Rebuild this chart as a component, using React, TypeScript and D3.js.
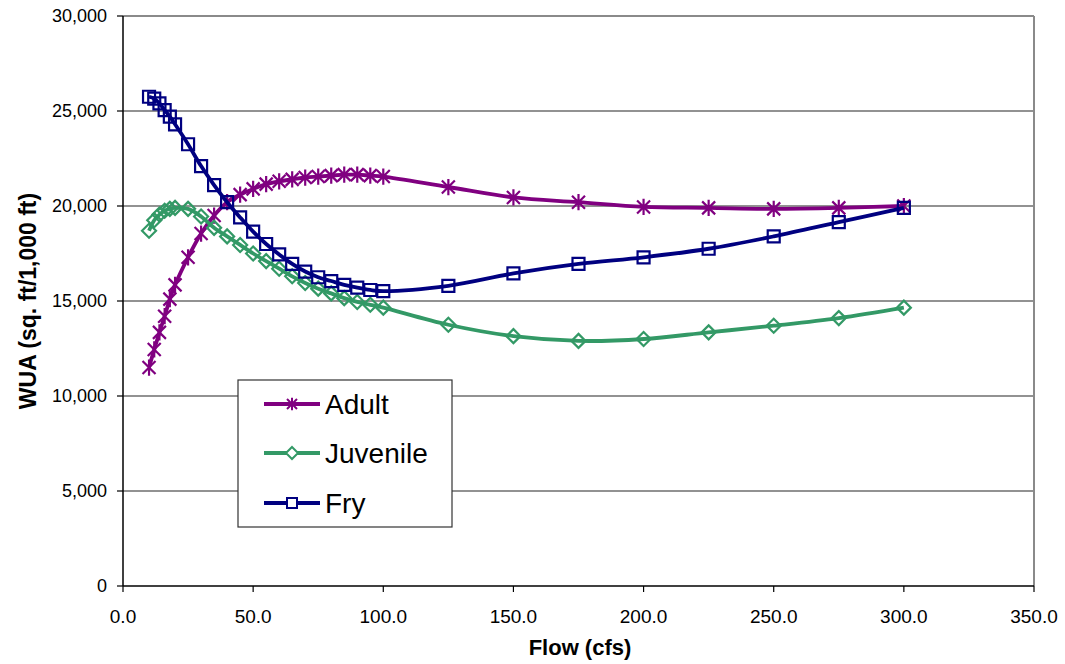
import React from "react";
import * as d3 from "d3";

// Flow values (cfs) shared by all three life stages
const flows = [10, 12, 14, 16, 18, 20, 25, 30, 35, 40, 45, 50, 55, 60, 65, 70, 75, 80, 85, 90, 95, 100, 125, 150, 175, 200, 225, 250, 275, 300];

// Weighted usable area (sq. ft / 1,000 ft) per life stage
const adult = [11500, 12450, 13350, 14200, 15100, 15850, 17300, 18550, 19500, 20200, 20600, 20900, 21150, 21300, 21400, 21500, 21550, 21600, 21650, 21650, 21600, 21550, 21000, 20450, 20200, 19950, 19900, 19850, 19900, 20000];
const juvenile = [18700, 19250, 19550, 19750, 19850, 19900, 19850, 19450, 18850, 18400, 17950, 17500, 17100, 16700, 16300, 15950, 15650, 15400, 15150, 14950, 14800, 14650, 13750, 13150, 12900, 13000, 13350, 13700, 14100, 14650];
const fry = [25750, 25650, 25400, 25050, 24700, 24300, 23250, 22100, 21100, 20200, 19400, 18650, 18000, 17450, 16950, 16550, 16250, 16050, 15850, 15700, 15580, 15520, 15800, 16450, 16950, 17300, 17750, 18400, 19150, 19900];

const xTicks = [0, 50, 100, 150, 200, 250, 300, 350];
const yTicks = [0, 5000, 10000, 15000, 20000, 25000, 30000];

type Marker = "star" | "diamond" | "square";
const seriesList: { name: string; values: number[]; color: string; marker: Marker }[] = [
  { name: "Adult", values: adult, color: "#800080", marker: "star" },
  { name: "Juvenile", values: juvenile, color: "#339966", marker: "diamond" },
  { name: "Fry", values: fry, color: "#000080", marker: "square" },
];

const W = 1065;
const H = 664;
const plot = { left: 123, top: 16, right: 1034, bottom: 586 };
const FONT = "Arial, 'Liberation Sans', sans-serif";

function markerPath(kind: Marker, cx: number, cy: number, r: number): string {
  if (kind === "square") {
    return `M${cx - r},${cy - r}H${cx + r}V${cy + r}H${cx - r}Z`;
  }
  if (kind === "diamond") {
    return `M${cx},${cy - r}L${cx + r},${cy}L${cx},${cy + r}L${cx - r},${cy}Z`;
  }
  return `M${cx - r},${cy - r}L${cx + r},${cy + r}M${cx - r},${cy + r}L${cx + r},${cy - r}M${cx},${cy - r * 1.25}V${cy + r * 1.25}`;
}

const markerSize: Record<Marker, number> = { star: 6.5, diamond: 7, square: 6 };
const legendMarkerSize: Record<Marker, number> = { star: 5, diamond: 6, square: 5 };

export default function App() {
  const x = d3.scaleLinear().domain([0, 350]).range([plot.left, plot.right]);
  const y = d3.scaleLinear().domain([0, 30000]).range([plot.bottom, plot.top]);

  const line = d3
    .line<number>()
    .x((_, i) => x(flows[i]))
    .y((v) => y(v))
    .curve(d3.curveCatmullRom.alpha(0.5));

  const legend = { x: 238, y: 380, w: 214, h: 147 };
  const legendRows = [404, 453, 503];

  return (
    <svg width={W} height={H} style={{ display: "block", position: "absolute", left: 0, top: 0 }} fontFamily={FONT}>
      <rect width={W} height={H} fill="#ffffff" />

      {/* horizontal gridlines */}
      {yTicks
        .filter((t) => t > 0 && t < 30000)
        .map((t) => (
          <line key={t} x1={plot.left} x2={plot.right} y1={y(t)} y2={y(t)} stroke="#6e6e6e" strokeWidth={1.3} />
        ))}

      {/* plot area frame: top and right in gray */}
      <line x1={plot.left} x2={plot.right} y1={plot.top} y2={plot.top} stroke="#8a8a8a" strokeWidth={2} />
      <line x1={plot.right} x2={plot.right} y1={plot.top} y2={plot.bottom} stroke="#8a8a8a" strokeWidth={2} />

      {/* axes */}
      <line x1={plot.left} x2={plot.left} y1={plot.top} y2={plot.bottom} stroke="#000" strokeWidth={1.5} />
      <line x1={plot.left} x2={plot.right} y1={plot.bottom} y2={plot.bottom} stroke="#000" strokeWidth={1.5} />

      {yTicks.map((t) => (
        <g key={t}>
          <line x1={plot.left - 6} x2={plot.left} y1={y(t)} y2={y(t)} stroke="#000" strokeWidth={1.2} />
          <text x={107} y={y(t)} dy="0.35em" textAnchor="end" fontSize={18} fill="#000">
            {d3.format(",")(t)}
          </text>
        </g>
      ))}
      {xTicks.map((t) => (
        <g key={t}>
          <line x1={x(t)} x2={x(t)} y1={plot.bottom} y2={plot.bottom + 6} stroke="#000" strokeWidth={1.2} />
          <text x={x(t)} y={623} textAnchor="middle" fontSize={19} fill="#000">
            {d3.format(".1f")(t)}
          </text>
        </g>
      ))}

      <text x={580} y={655} textAnchor="middle" fontSize={22} fontWeight="bold" fill="#000">
        Flow (cfs)
      </text>
      <text
        transform={`translate(36,${(plot.top + plot.bottom) / 2}) rotate(-90)`}
        textAnchor="middle"
        fontSize={23}
        fontWeight="bold"
        fill="#000"
      >
        WUA (sq. ft/1,000 ft)
      </text>

      {/* series lines and markers */}
      {seriesList.map((s) => (
        <g key={s.name}>
          <path d={line(s.values) || ""} fill="none" stroke={s.color} strokeWidth={3.8} strokeLinejoin="round" />
          {s.values.map((v, i) => (
            <path
              key={i}
              d={markerPath(s.marker, x(flows[i]), y(v), markerSize[s.marker])}
              fill="none"
              stroke={s.color}
              strokeWidth={2.2}
            />
          ))}
        </g>
      ))}

      {/* legend */}
      <rect x={legend.x} y={legend.y} width={legend.w} height={legend.h} fill="#fff" stroke="#333" strokeWidth={1.2} />
      {seriesList.map((s, i) => (
        <g key={s.name}>
          <line x1={264} x2={320} y1={legendRows[i]} y2={legendRows[i]} stroke={s.color} strokeWidth={3.8} />
          <path
            d={markerPath(s.marker, 292, legendRows[i], legendMarkerSize[s.marker])}
            fill="#fff"
            stroke={s.color}
            strokeWidth={2}
          />
          <text x={325} y={legendRows[i]} dy="0.36em" fontSize={28} fill="#000">
            {s.name}
          </text>
        </g>
      ))}
    </svg>
  );
}
